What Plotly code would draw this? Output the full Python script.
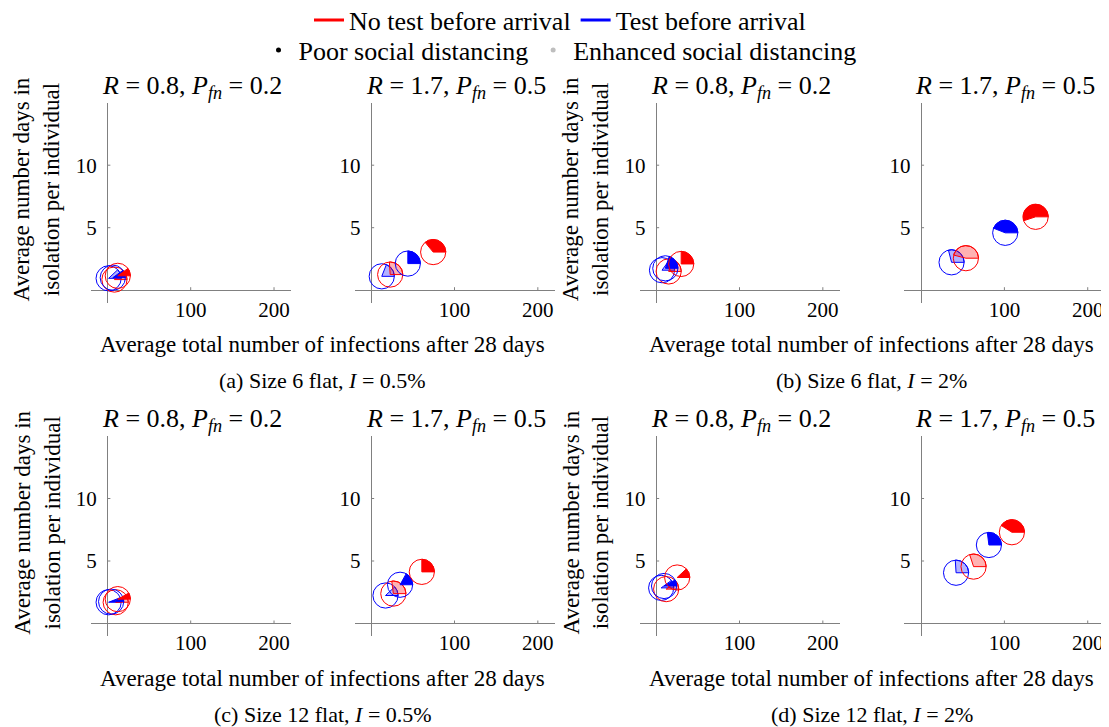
import numpy as np
import plotly.graph_objects as go

# ---------------- data ----------------
# Panel order: (a) left, (a) right, (b) left, (b) right, (c) left, (c) right, (d) left, (d) right
panel_R = [0.8, 1.7, 0.8, 1.7, 0.8, 1.7, 0.8, 1.7]
panel_Pfn = [0.2, 0.5, 0.2, 0.5, 0.2, 0.5, 0.2, 0.5]
captions = ["(a) Size 6 flat, <i>I</i> = 0.5%", "(b) Size 6 flat, <i>I</i> = 2%",
            "(c) Size 12 flat, <i>I</i> = 0.5%", "(d) Size 12 flat, <i>I</i> = 2%"]
x_title = "Average total number of infections after 28 days"
y_title = "Average number days in<br>isolation per individual"

x_ticks = [100, 200]
x_tick_labels = ["100", "200"]
y_ticks = [5, 10]
y_tick_labels = ["5", "10"]
x_range = [-20, 220]
y_range = [-1, 15]

# Test before arrival, enhanced social distancing
test_enh_x = [1.5, 12.7, 7.0, 36.6, 1.5, 17.2, 6.0, 42.0]
test_enh_y = [0.95, 1.11, 1.6, 2.23, 1.7, 2.24, 2.85, 4.06]
test_enh_f = [0.12, 0.19, 0.15, 0.29, 0.06, 0.12, 0.10, 0.26]
# No test before arrival, enhanced social distancing
notest_enh_x = [8.5, 22.8, 15.0, 53.8, 10.0, 26.6, 12.0, 63.0]
notest_enh_y = [0.85, 1.25, 1.5, 2.56, 1.7, 2.39, 2.75, 4.55]
notest_enh_f = [0.12, 0.26, 0.20, 0.46, 0.06, 0.27, 0.10, 0.30]
# Test before arrival, poor social distancing
test_poor_x = [6.5, 44.0, 11.0, 101.0, 4.5, 34.7, 9.5, 81.4]
test_poor_y = [1.0, 2.13, 1.75, 4.59, 1.75, 3.1, 3.0, 6.28]
test_poor_f = [0.10, 0.25, 0.20, 0.44, 0.05, 0.17, 0.08, 0.27]
# No test before arrival, poor social distancing
notest_poor_x = [12.5, 74.4, 30.0, 137.5, 12.5, 60.8, 25.2, 109.0]
notest_poor_y = [1.15, 3.05, 2.1, 5.87, 1.95, 4.13, 3.68, 7.3]
notest_poor_f = [0.10, 0.36, 0.25, 0.55, 0.08, 0.25, 0.12, 0.41]

# ---------------- styling ----------------
W, H = 1109, 727
OFF = 8  # the page body margin shifts the figure by this many pixels
FONT = "Liberation Serif, Times New Roman, serif"
RED, BLUE = "rgb(255,0,0)", "rgb(0,0,255)"
RED_L, BLUE_L = "rgba(255,0,0,0.3)", "rgba(0,0,255,0.3)"
AXIS_C = "rgb(128,128,128)"
# panel positions in window pixels
col_px = [(90.7, 290.7), (354.5, 554.5), (639.5, 839.5), (904.4, 1104.4)]
row_px = [(102.7, 302.7), (436.0, 636.0)]
R_PX = 12.6  # circle radius in pixels


def fx(px):
    return (px - OFF) / W


def fy(py):
    return 1 - (py - OFF) / H


series = [
    (test_enh_x, test_enh_y, test_enh_f, BLUE, BLUE_L),
    (notest_enh_x, notest_enh_y, notest_enh_f, RED, RED_L),
    (test_poor_x, test_poor_y, test_poor_f, BLUE, BLUE),
    (notest_poor_x, notest_poor_y, notest_poor_f, RED, RED),
]

fig = go.Figure()
layout = {}
shapes = []
annotations = []

for i in range(8):
    r, c = divmod(i, 4)
    sfx = "" if i == 0 else str(i + 1)
    xa, ya = "x" + sfx, "y" + sfx
    px0, px1 = col_px[c]
    py0, py1 = row_px[r]
    layout["xaxis" + sfx] = dict(
        domain=[fx(px0), fx(px1)], anchor=ya, range=x_range, fixedrange=True,
        showgrid=False, showline=False, zeroline=True, zerolinecolor=AXIS_C, zerolinewidth=1,
        tickvals=x_ticks, ticktext=x_tick_labels, ticks="", ticklabelstandoff=-8,
        tickfont=dict(family=FONT, size=21, color="black"))
    layout["yaxis" + sfx] = dict(
        domain=[fy(py1), fy(py0)], anchor=xa, range=y_range, fixedrange=True,
        showgrid=False, showline=False, zeroline=True, zerolinecolor=AXIS_C, zerolinewidth=1,
        tickvals=y_ticks, ticktext=y_tick_labels, ticks="", ticklabelstandoff=-7,
        tickfont=dict(family=FONT, size=21, color="black"))

    # pixel radius -> data units
    rx = R_PX * (x_range[1] - x_range[0]) / (px1 - px0)
    ry = R_PX * (y_range[1] - y_range[0]) / (py1 - py0)

    for sx, sy, sf, col, fillc in series:
        cx, cy, f = sx[i], sy[i], sf[i]
        th = np.linspace(0, 2 * np.pi * f, 60)
        wx = np.concatenate([[cx], cx + rx * np.cos(th), [cx]])
        wy = np.concatenate([[cy], cy + ry * np.sin(th), [cy]])
        fig.add_trace(go.Scatter(x=wx, y=wy, xaxis=xa, yaxis=ya, mode="lines",
                                 fill="toself", fillcolor=fillc,
                                 line=dict(color=col, width=1), showlegend=False,
                                 hoverinfo="skip"))
        fig.add_trace(go.Scatter(x=[cx], y=[cy], xaxis=xa, yaxis=ya, mode="markers",
                                 marker=dict(symbol="circle-open", size=2 * R_PX,
                                             color=col, line=dict(width=1, color=col)),
                                 showlegend=False))

    # small tick marks on the origin axes
    for tv in x_ticks:
        shapes.append(dict(type="line", xref=xa, yref=ya, x0=tv, x1=tv,
                           ysizemode="pixel", yanchor=0, y0=0, y1=3,
                           line=dict(color=AXIS_C, width=1)))
    for tv in y_ticks:
        shapes.append(dict(type="line", xref=xa, yref=ya, y0=tv, y1=tv,
                           xsizemode="pixel", xanchor=0, x0=0, x1=3,
                           line=dict(color=AXIS_C, width=1)))

    # panel title
    annotations.append(dict(
        text=f"<i>R</i> = {panel_R[i]}, <i>P<sub>fn</sub></i> = {panel_Pfn[i]}",
        xref="paper", yref="paper", x=fx((px0 + px1) / 2 + 1), y=fy(py0 - 16),
        xanchor="center", yanchor="middle", showarrow=False,
        font=dict(family=FONT, size=26, color="black")))

# shared axis titles and captions
for k in range(4):
    r, pc = divmod(k, 2)
    left = col_px[2 * pc][0]
    right = col_px[2 * pc + 1][1]
    cxp = fx((left + right) / 2)
    ytop = row_px[r][0]
    annotations.append(dict(text=x_title, xref="paper", yref="paper", x=cxp,
                            y=fy(ytop + 242), xanchor="center", yanchor="middle",
                            showarrow=False, font=dict(family=FONT, size=23, color="black")))
    annotations.append(dict(text=captions[k], xref="paper", yref="paper", x=cxp,
                            y=fy(ytop + 278), xanchor="center", yanchor="middle",
                            showarrow=False, font=dict(family=FONT, size=22, color="black")))
    annotations.append(dict(text=y_title, xref="paper", yref="paper",
                            x=fx(col_px[2 * pc][0] - 54), y=fy(ytop + 87),
                            xanchor="center", yanchor="middle", textangle=-90,
                            showarrow=False, font=dict(family=FONT, size=23, color="black")))

# legend entries
fig.add_trace(go.Scatter(x=[None], y=[None], mode="lines", line=dict(color=RED, width=3),
                         name="No test before arrival", legend="legend"))
fig.add_trace(go.Scatter(x=[None], y=[None], mode="lines", line=dict(color=BLUE, width=3),
                         name="Test before arrival", legend="legend"))
fig.add_trace(go.Scatter(x=[None], y=[None], mode="markers",
                         marker=dict(color="black", size=5), name="Poor social distancing",
                         legend="legend2"))
fig.add_trace(go.Scatter(x=[None], y=[None], mode="markers",
                         marker=dict(color="rgb(190,190,190)", size=5),
                         name="Enhanced social distancing", legend="legend2"))

leg_common = dict(orientation="h", x=fx(560), xanchor="center", yanchor="middle",
                  bgcolor="rgba(0,0,0,0)", font=dict(family=FONT, size=26, color="black"),
                  itemwidth=30, tracegroupgap=0)

fig.update_layout(
    **layout,
    width=W, height=H,
    margin=dict(l=0, r=0, t=0, b=0, autoexpand=False),
    paper_bgcolor="white", plot_bgcolor="white",
    shapes=shapes, annotations=annotations,
    legend=dict(**leg_common, y=fy(20)),
    legend2=dict(**leg_common, y=fy(50)),
    font=dict(family=FONT, color="black"),
)

fig.write_html("out.html")
